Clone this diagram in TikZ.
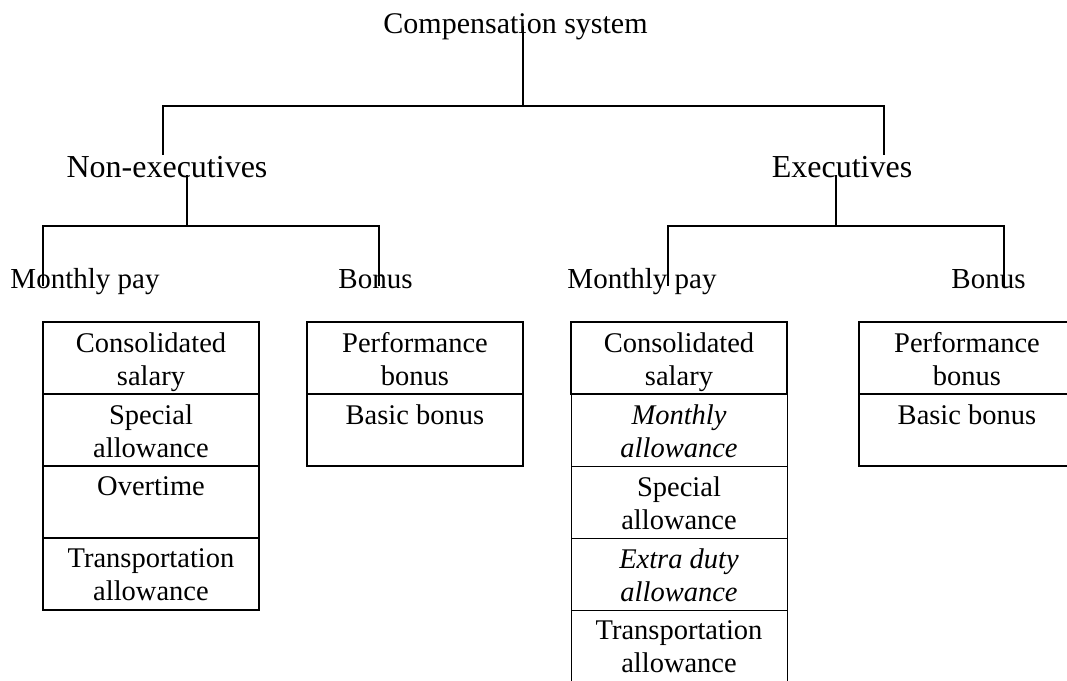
\documentclass[tikz,border=0pt]{standalone}
\usepackage{fontspec}
\setmainfont{Liberation Serif}
\begin{document}
\begin{tikzpicture}[x=1pt,y=-1pt,
  conn/.style={line width=1.5pt,line cap=rect},
  lbl/.style={inner sep=0pt,anchor=base},
  toplbl/.style={lbl,font=\fontsize{30}{36}\selectfont},
  grplbl/.style={lbl,font=\fontsize{32}{38}\selectfont},
  sublbl/.style={lbl,font=\fontsize{29}{34}\selectfont},
  cell/.style={draw,line width=1.5pt,minimum width=216pt,minimum height=72pt,inner sep=0pt},
  thincell/.style={cell,line width=0.8pt},
  celltext/.style={anchor=north,inner sep=0pt,align=center,font=\fontsize{28.5}{33}\selectfont}]
\useasboundingbox (0,0) rectangle (1067,680);

% --- tree labels ---
\node[toplbl] (root) at (515.5,33) {Compensation system};
\node[grplbl] (nonexec) at (167,177) {Non-executives};
\node[grplbl] (exec) at (842,177) {Executives};
\node[sublbl] (nmp) at (85,288) {Monthly pay};
\node[sublbl] (nb) at (375.5,288) {Bonus};
\node[sublbl] (emp) at (642,288) {Monthly pay};
\node[sublbl] (eb) at (988.5,288) {Bonus};

% --- connector end points and junctions ---
\coordinate (root-s) at (523,27);
\coordinate (j0) at (523,106);
\coordinate (nonexec-n) at (163,154);
\coordinate (exec-n) at (884,154);
\coordinate (nonexec-s) at (187,176);
\coordinate (j1) at (187,226);
\coordinate (nmp-n) at (43,285);
\coordinate (nb-n) at (379,285);
\coordinate (exec-s) at (836,176);
\coordinate (j2) at (836,226);
\coordinate (emp-n) at (668,285);
\coordinate (eb-n) at (1004,285);

\draw[conn] (root-s) -- (j0);
\draw[conn] (nonexec-n) |- (j0);
\draw[conn] (exec-n) |- (j0);
\draw[conn] (nonexec-s) -- (j1);
\draw[conn] (nmp-n) |- (j1);
\draw[conn] (nb-n) |- (j1);
\draw[conn] (exec-s) -- (j2);
\draw[conn] (emp-n) |- (j2);
\draw[conn] (eb-n) |- (j2);

% --- non-executives: monthly pay items ---
\node[cell] (nm1) at (151,358) {};
\node[cell] (nm2) at (151,430) {};
\node[cell] (nm3) at (151,502) {};
\node[cell] (nm4) at (151,574) {};
\node[celltext] at ([yshift=-11pt]nm1.north) {Consolidated\\salary};
\node[celltext] at ([yshift=-11pt]nm2.north) {Special\\allowance};
\node[celltext] at ([yshift=-11pt]nm3.north) {Overtime};
\node[celltext] at ([yshift=-11pt]nm4.north) {Transportation\\allowance};

% --- non-executives: bonus items ---
\node[cell] (nb1) at (415,358) {};
\node[cell] (nb2) at (415,430) {};
\node[celltext] at ([yshift=-11pt]nb1.north) {Performance\\bonus};
\node[celltext] at ([yshift=-11pt]nb2.north) {Basic bonus};

% --- executives: monthly pay items ---
\node[thincell] (em2) at (679,430) {};
\node[thincell] (em3) at (679,502) {};
\node[thincell] (em4) at (679,574) {};
\node[thincell] (em5) at (679,646) {};
\node[cell] (em1) at (679,358) {};
\node[celltext] at ([yshift=-11pt]em1.north) {Consolidated\\salary};
\node[celltext] at ([yshift=-11pt]em2.north) {\itshape Monthly\\\itshape allowance};
\node[celltext] at ([yshift=-11pt]em3.north) {Special\\allowance};
\node[celltext] at ([yshift=-11pt]em4.north) {\itshape Extra duty\\\itshape allowance};
\node[celltext] at ([yshift=-11pt]em5.north) {Transportation\\allowance};

% --- executives: bonus items ---
\node[cell] (eb1) at (967,358) {};
\node[cell] (eb2) at (967,430) {};
\node[celltext] at ([yshift=-11pt]eb1.north) {Performance\\bonus};
\node[celltext] at ([yshift=-11pt]eb2.north) {Basic bonus};
\end{tikzpicture}
\end{document}
